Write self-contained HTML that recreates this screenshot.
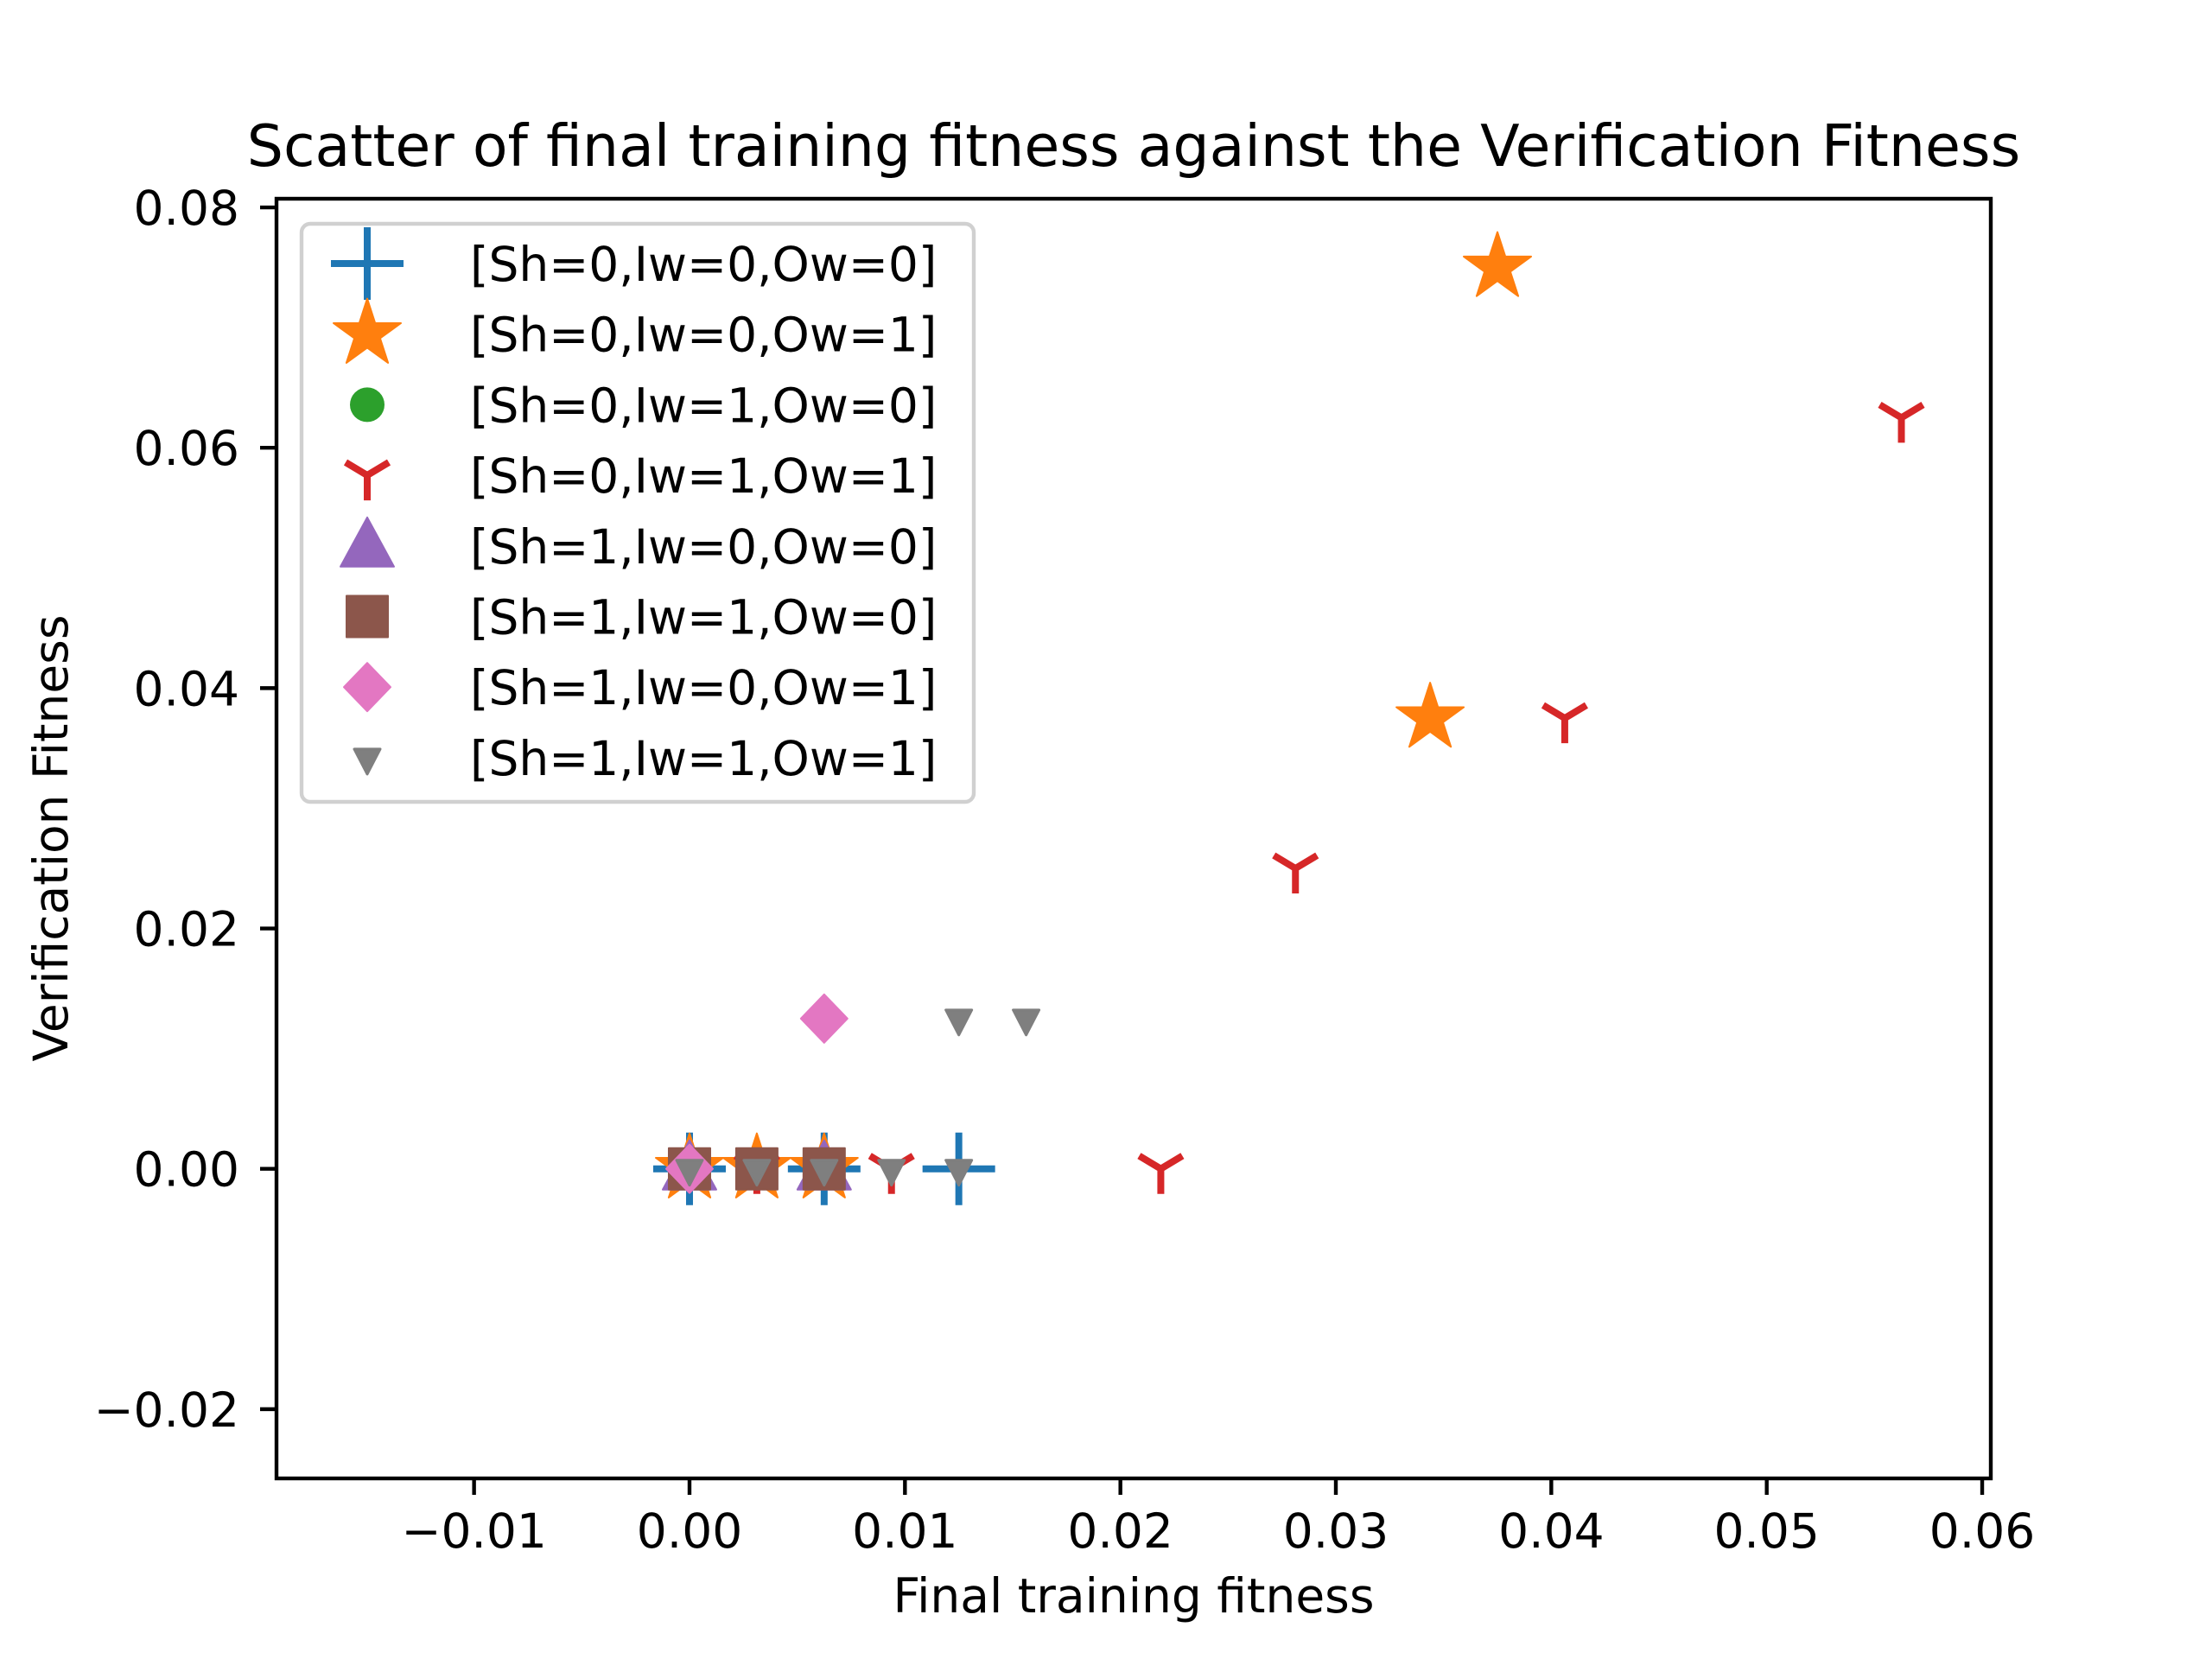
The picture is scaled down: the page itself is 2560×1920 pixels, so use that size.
<!DOCTYPE html>
<html><head><meta charset="utf-8"><style>
html,body{margin:0;padding:0;background:#fff;}
svg{display:block;font-family:"DejaVu Sans","Liberation Sans",sans-serif;}
</style></head><body>
<svg id="chart" width="2560" height="1920" viewBox="0 0 2560 1920" xmlns="http://www.w3.org/2000/svg">
<rect width="2560" height="1920" fill="#fff"/>
<text x="1312" y="192" font-size="66.5" text-anchor="middle">Scatter of final training fitness against the Verification Fitness</text>
<g id="ticks"></g>
<g id="marks"></g>
<rect x="320" y="230" width="1984" height="1481" fill="none" stroke="#000" stroke-width="4.4"/>
<text x="1312" y="1866" font-size="55" text-anchor="middle">Final training fitness</text>
<text x="78" y="970" font-size="55" text-anchor="middle" transform="rotate(-90 78 970)">Verification Fitness</text>
<g id="legend"></g>
</svg>
<script>
const xTicks=[-0.01,0,0.01,0.02,0.03,0.04,0.05,0.06];
const xTickLabels=["\u22120.01","0.00","0.01","0.02","0.03","0.04","0.05","0.06"];
const yTicks=[-0.02,0,0.02,0.04,0.06,0.08];
const yTickLabels=["\u22120.02","0.00","0.02","0.04","0.06","0.08"];
const seriesNames=["[Sh=0,Iw=0,Ow=0]","[Sh=0,Iw=0,Ow=1]","[Sh=0,Iw=1,Ow=0]","[Sh=0,Iw=1,Ow=1]","[Sh=1,Iw=0,Ow=0]","[Sh=1,Iw=1,Ow=0]","[Sh=1,Iw=0,Ow=1]","[Sh=1,Iw=1,Ow=1]"];
const s0x=[0,0.00625,0.0125]; const s0y=[0,0,0];
const s1x=[0,0.003125,0.00625,0.034375,0.0375]; const s1y=[0,0,0,0.0375,0.075];
const s2x=[0]; const s2y=[0];
const s3x=[0.003125,0.009375,0.021875,0.028125,0.040625,0.05625]; const s3y=[0,0,0,0.025,0.0375,0.0625];
const s4x=[0,0.00625]; const s4y=[0,0];
const s5x=[0,0.003125,0.00625]; const s5y=[0,0,0];
const s6x=[0,0.00625]; const s6y=[0,0.0125];
const s7x=[0,0.003125,0.00625,0.009375,0.0125,0.0125,0.015625]; const s7y=[0,0,0,0,0,0.0125,0.0125];

const XMIN=-0.01917,XMAX=0.0604,YMIN=-0.02576,YMAX=0.08072;
const L=320,R=2304,T=230,B=1711;
function sx(v){return L+(v-XMIN)/(XMAX-XMIN)*(R-L);}
function sy(v){return B-(v-YMIN)/(YMAX-YMIN)*(B-T);}
const NS="http://www.w3.org/2000/svg";
function mk(tag,attrs,parent){const e=document.createElementNS(NS,tag);for(const k in attrs)e.setAttribute(k,attrs[k]);parent.appendChild(e);return e;}

const tg=document.getElementById('ticks');
xTicks.forEach((v,i)=>{
  const x=sx(v);
  const t=mk('line',{x1:x,x2:x,y1:B,y2:B+19,stroke:'#000','stroke-width':4.4},tg);
  
  
  const l=mk('text',{x:x,y:1791,'font-size':55,'text-anchor':'middle'},tg);
  l.textContent=xTickLabels[i];
  
  
});
yTicks.forEach((v,i)=>{
  const y=sy(v);
  const t=mk('line',{x1:L-19,x2:L,y1:y,y2:y,stroke:'#000','stroke-width':4.4},tg);
  
  
  const l=mk('text',{x:277,y:y+20,'font-size':55,'text-anchor':'end'},tg);
  l.textContent=yTickLabels[i];
  
  
});

const colors=['#1f77b4','#ff7f0e','#2ca02c','#d62728','#9467bd','#8c564b','#e377c2','#7f7f7f'];
function starPts(cx,cy,r){let p=[];for(let k=0;k<10;k++){const rr=k%2?r*0.382:r;const a=-Math.PI/2+k*Math.PI/5;p.push((cx+rr*Math.cos(a)).toFixed(1)+','+(cy+rr*Math.sin(a)).toFixed(1));}return p.join(' ');}
function drawMarker(type,cx,cy,g){
  const c=colors[type];let e;
  if(type===0){e=mk('path',{d:`M${cx-42},${cy}H${cx+42}M${cx},${cy-42}V${cy+42}`,stroke:c,'stroke-width':8,fill:'none'},g);}
  else if(type===1){e=mk('polygon',{points:starPts(cx,cy,41),fill:c,stroke:c,'stroke-width':2,'stroke-linejoin':'round'},g);}
  else if(type===2){e=mk('circle',{cx:cx,cy:cy,r:20,fill:c},g);}
  else if(type===3){e=mk('path',{d:`M${cx},${cy}V${cy+29}M${cx},${cy}L${cx-25},${cy-15}M${cx},${cy}L${cx+25},${cy-15}`,stroke:c,'stroke-width':8,fill:'none'},g);}
  else if(type===4){e=mk('polygon',{points:`${cx},${cy-33} ${cx+31},${cy+24} ${cx-31},${cy+24}`,fill:c,stroke:c,'stroke-width':2,'stroke-linejoin':'round'},g);}
  else if(type===5){e=mk('rect',{x:cx-24,y:cy-24,width:48,height:48,fill:c,stroke:c,'stroke-width':2,'stroke-linejoin':'round'},g);}
  else if(type===6){e=mk('polygon',{points:`${cx},${cy-28} ${cx+27},${cy} ${cx},${cy+28} ${cx-27},${cy}`,fill:c,stroke:c,'stroke-width':2,'stroke-linejoin':'round'},g);}
  else {e=mk('polygon',{points:`${cx-15},${cy-10} ${cx+15},${cy-10} ${cx},${cy+19}`,fill:c,stroke:c,'stroke-width':3,'stroke-linejoin':'round'},g);}
  return e;
}
const mg=document.getElementById('marks');
const allX=[s0x,s1x,s2x,s3x,s4x,s5x,s6x,s7x];
const allY=[s0y,s1y,s2y,s3y,s4y,s5y,s6y,s7y];
allX.forEach((xs,si)=>{
  xs.forEach((xv,j)=>{
    const e=drawMarker(si,sx(xv),sy(allY[si][j]),mg);
    
    
  });
});

const lg=document.getElementById('legend');
const box=mk('rect',{x:349,y:259,width:778,height:669,rx:10,fill:'#fff','fill-opacity':0.8,stroke:'#d0d0d0','stroke-width':4.4},lg);


seriesNames.forEach((n,i)=>{
  const y=305+i*81.7;
  const m=drawMarker(i,425,y,lg);
  
  
  const t=mk('text',{x:544,y:y+20,'font-size':55},lg);
  t.textContent=n;
  
  
});
</script>
</body></html>
